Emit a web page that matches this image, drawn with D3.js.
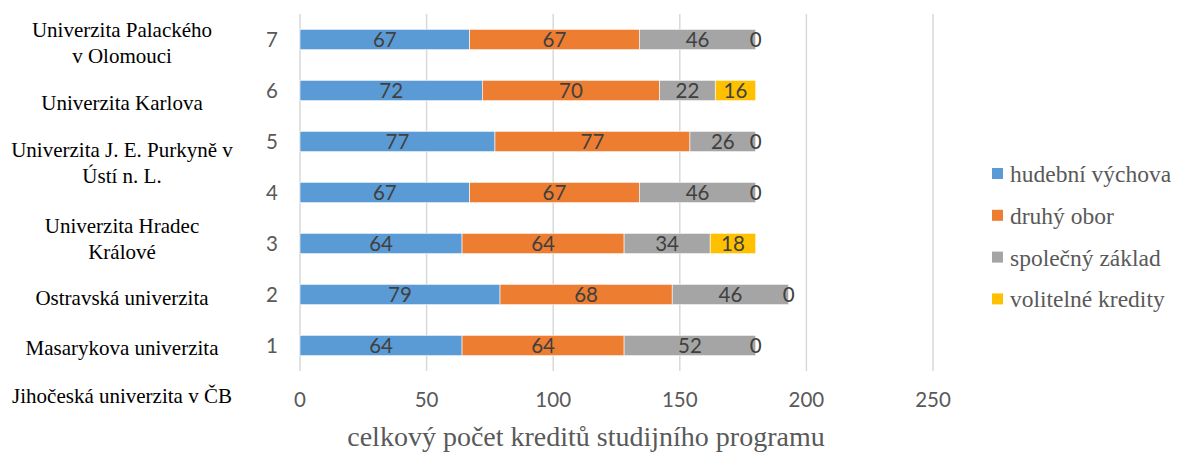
<!DOCTYPE html>
<html lang="cs">
<head>
<meta charset="utf-8">
<title>Kredity studijních programů</title>
<script src="https://cdnjs.cloudflare.com/ajax/libs/d3/7.8.5/d3.min.js"></script>
<style>
  body { margin: 0; background: #fff; }
  svg { display: block; }
</style>
</head>
<body>
<script>
// row numbers on the category axis (bottom to top)
var rows = [1, 2, 3, 4, 5, 6, 7];

// series values per row
var hudebni   = [64, 79, 64, 67, 77, 72, 67];
var druhy     = [64, 68, 64, 67, 77, 70, 67];
var spolecny  = [52, 46, 34, 46, 26, 22, 46];
var volitelne = [0, 0, 18, 0, 0, 16, 0];

var seriesNames = ["hudební výchova", "druhý obor", "společný základ", "volitelné kredity"];
var colors = ["#5b9bd5", "#ed7d31", "#a5a5a5", "#ffc000"];

var xTicks = [0, 50, 100, 150, 200, 250];

// university names in the side column
var universities = [
  ["Jihočeská univerzita v ČB"],
  ["Masarykova univerzita"],
  ["Ostravská univerzita"],
  ["Univerzita Hradec", "Králové"],
  ["Univerzita J. E. Purkyně v", "Ústí n. L."],
  ["Univerzita Karlova"],
  ["Univerzita Palackého", "v Olomouci"]
];
// row each name sits next to (0 = level of the x axis labels)
var uniRow = [0, 1, 2, 3, 4, 6, 7];
// small vertical nudges of that column (it is not aligned exactly to the rows)
var uniNudge = [0, 3, 4, -4.5, -29, 13, 4];

var w = 1178, h = 454;

var svg = d3.select("body").append("svg")
  .attr("width", w)
  .attr("height", h);

var x = d3.scaleLinear().domain([0, 250]).range([300, 933]);

var y = d3.scaleBand()
  .domain(rows.slice().reverse())
  .range([14, 371])
  .paddingInner(0.6)
  .paddingOuter(0.3);

// center of a row, extended linearly so row 0 lands below the plot
var yc = d3.scaleLinear()
  .domain([1, 7])
  .range([y(1) + y.bandwidth() / 2, y(7) + y.bandwidth() / 2]);

// gridlines
svg.append("g")
  .selectAll("line")
  .data(xTicks)
  .enter().append("line")
  .attr("x1", function(d) { return x(d); })
  .attr("x2", function(d) { return x(d); })
  .attr("y1", 14)
  .attr("y2", 371)
  .attr("stroke", "#d9d9d9")
  .attr("stroke-width", 1.5);

// stack the data
var table = rows.map(function(r, i) {
  return { row: r, s0: hudebni[i], s1: druhy[i], s2: spolecny[i], s3: volitelne[i] };
});
var stack = d3.stack().keys(["s0", "s1", "s2", "s3"]);
var series = stack(table);

var groups = svg.append("g")
  .selectAll("g")
  .data(series)
  .enter().append("g")
  .attr("fill", function(d, i) { return colors[i]; });

groups.selectAll("rect")
  .data(function(d) { return d; })
  .enter().append("rect")
  .attr("x", function(d) { return x(d[0]); })
  .attr("width", function(d) { return x(d[1]) - x(d[0]); })
  .attr("y", function(d) { return y(d.data.row); })
  .attr("height", y.bandwidth())
  .attr("stroke", "#ffffff")
  .attr("stroke-width", 0.6);

// value labels
var labels = svg.append("g")
  .attr("font-family", "Lato, 'Open Sans', sans-serif")
  .attr("font-size", "20.5px")
  .attr("fill", "#404040")
  .attr("text-anchor", "middle");

series.forEach(function(s) {
  labels.selectAll(null)
    .data(s)
    .enter().append("text")
    .attr("x", function(d) { return x((d[0] + d[1]) / 2); })
    .attr("y", function(d) { return y(d.data.row) + y.bandwidth() / 2; })
    .attr("dy", "0.36em")
    .text(function(d) { return d[1] - d[0]; });
});

// category axis numbers
svg.append("g")
  .selectAll("text")
  .data(rows)
  .enter().append("text")
  .attr("x", 278)
  .attr("y", function(d) { return yc(d); })
  .attr("dy", "0.36em")
  .attr("text-anchor", "end")
  .attr("font-family", "Lato, 'Open Sans', sans-serif")
  .attr("font-size", "20.5px")
  .attr("fill", "#595959")
  .text(function(d) { return d; });

// x axis labels
svg.append("g")
  .selectAll("text")
  .data(xTicks)
  .enter().append("text")
  .attr("x", function(d) { return x(d); })
  .attr("y", 400)
  .attr("dy", "0.36em")
  .attr("text-anchor", "middle")
  .attr("font-family", "Lato, 'Open Sans', sans-serif")
  .attr("font-size", "20.5px")
  .attr("fill", "#595959")
  .text(function(d) { return d; });

// x axis title
svg.append("text")
  .attr("x", 586)
  .attr("y", 446)
  .attr("text-anchor", "middle")
  .attr("font-family", "'Liberation Serif', 'Times New Roman', serif")
  .attr("font-size", "28px")
  .attr("fill", "#595959")
  .text("celkový počet kreditů studijního programu");

// university column
var uni = svg.append("g")
  .attr("font-family", "'Liberation Serif', 'Times New Roman', serif")
  .attr("font-size", "21px")
  .attr("fill", "#000")
  .attr("text-anchor", "middle");

universities.forEach(function(lines, i) {
  var cy = yc(uniRow[i]) + uniNudge[i];
  var t = uni.append("text")
    .attr("x", 122)
    .attr("y", cy - (lines.length - 1) * 13);
  lines.forEach(function(line, j) {
    t.append("tspan")
      .attr("x", 122)
      .attr("dy", j === 0 ? "0.33em" : "26px")
      .text(line);
  });
});

// legend
var legend = svg.append("g")
  .attr("font-family", "'Liberation Serif', 'Times New Roman', serif")
  .attr("font-size", "23.5px")
  .attr("fill", "#595959");

var item = legend.selectAll("g")
  .data(seriesNames)
  .enter().append("g")
  .attr("transform", function(d, i) { return "translate(992," + (182 + i * 41.8) + ")"; });

item.append("rect")
  .attr("x", 0)
  .attr("y", -14)
  .attr("width", 11)
  .attr("height", 11)
  .attr("fill", function(d, i) { return colors[i]; });

item.append("text")
  .attr("x", 18)
  .attr("y", 0)
  .text(function(d) { return d; });
</script>
</body>
</html>
